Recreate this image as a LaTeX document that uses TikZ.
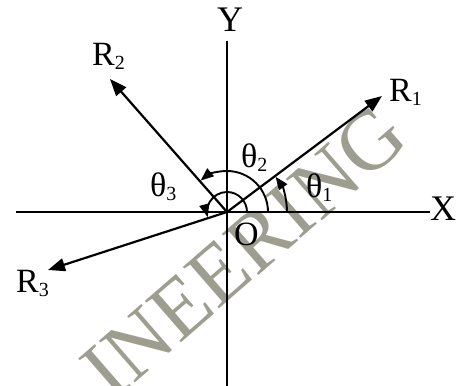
\documentclass[tikz,border=0pt]{standalone}
\usepackage{fontspec}
\setmainfont{Liberation Serif}
\usetikzlibrary{arrows.meta}
\definecolor{wm}{RGB}{158,158,144}
\newcommand\mysub[1]{\raisebox{-4pt}{\fontsize{20}{20}\selectfont #1}}
\tikzset{
  axis/.style={line width=1.3pt},
  vec/.style={line width=2.2pt,-{Triangle[length=17pt,width=13pt]}},
  ang/.style={line width=1.9pt,-{Triangle[length=13pt,width=10pt]}},
  lbl/.style={inner sep=0pt,anchor=base west,font=\fontsize{34}{34}\selectfont},
  axl/.style={inner sep=0pt,anchor=base west,font=\fontsize{36}{36}\selectfont},
}
\begin{document}
\begin{tikzpicture}[x=1pt,y=1pt]
\useasboundingbox (0,0) rectangle (464,386);
\begin{scope}
\clip (0,0) rectangle (464,386);
\node[wm,rotate=41,inner sep=0pt,font=\fontsize{84}{84}\selectfont] (wmk) at (244,134) {INEERING};
\end{scope}
\coordinate (O) at (227,174);
\coordinate (xl) at (16,174);
\coordinate (xr) at (430,174);
\coordinate (yt) at (227,345);
\coordinate (yb) at (227,0);
\coordinate (r1) at (382,290);
\coordinate (r2) at (110,307);
\coordinate (r3) at (48,116);
\draw[axis] (xl) -- (xr);
\draw[axis] (yt) -- (yb);
\draw[vec] (O) -- (r1);
\draw[vec] (O) -- (r2);
\draw[vec] (O) -- (r3);
\draw[ang] ([xshift=60pt]O) arc[start angle=0,end angle=36,radius=60];
\draw[ang] ([xshift=41pt]O) arc[start angle=0,end angle=130,radius=41];
\draw[ang] ([xshift=20pt]O) arc[start angle=0,end angle=195,radius=20];
\node[axl] (X) at (430,165) {X};
\node[axl] (Y) at (217,354) {Y};
\node[lbl] (Olbl) at (234,140) {O};
\node[lbl] (R1) at (389,284) {R\mysub{1}};
\node[lbl] (R2) at (92,320) {R\mysub{2}};
\node[lbl] (R3) at (16,93) {R\mysub{3}};
\node[lbl] (t1) at (306,188) {θ\mysub{1}};
\node[lbl] (t2) at (241,218) {θ\mysub{2}};
\node[lbl] (t3) at (150,189) {θ\mysub{3}};
\end{tikzpicture}
\end{document}
